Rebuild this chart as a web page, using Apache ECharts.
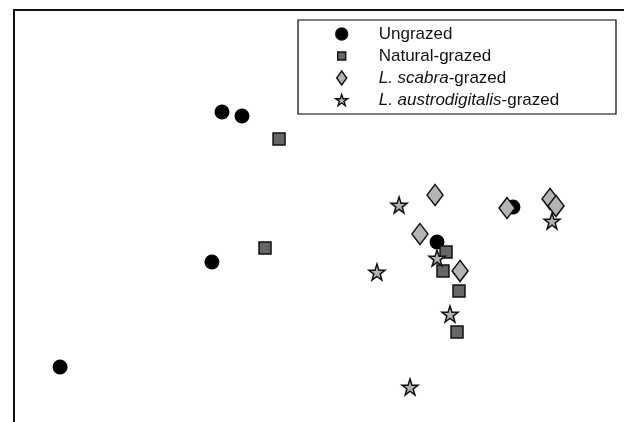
<!DOCTYPE html>
<html>
<head>
<meta charset="utf-8">
<script src="https://cdn.jsdelivr.net/npm/echarts@6/dist/echarts.min.js"></script>
<style>html,body{margin:0;padding:0;background:#fff}#c{width:624px;height:422px}</style>
</head>
<body>
<div id="c"></div>
<script>
var seriesNames = ['Ungrazed', 'Natural-grazed', 'L. scabra-grazed', 'L. austrodigitalis-grazed'];
var ungrazed = [[-0.636, 0.757], [-0.505, 0.728], [-0.702, -0.335], [-1.698, -1.100], [0.774, -0.189], [1.272, 0.066]];
var naturalGrazed = [[-0.262, 0.561], [-0.354, -0.233], [0.833, -0.262], [0.813, -0.400], [0.918, -0.546], [0.905, -0.845]];
var scabraGrazed = [[0.761, 0.153], [0.662, -0.131], [0.925, -0.400], [1.233, 0.058], [1.515, 0.124], [1.554, 0.073]];
var austroGrazed = [[0.525, 0.080], [0.380, -0.408], [0.774, -0.306], [0.859, -0.714], [0.597, -1.245], [1.528, -0.036]];

var STAR = 'path://M50,0 L61.8,35.1 L98.1,35.1 L68.8,56.7 L79.4,90.5 L50,69.5 L20.6,90.5 L31.2,56.7 L1.9,35.1 L38.2,35.1 Z';
var DIAMOND = 'path://M7,0 L14,10 L7,20 L0,10 Z';

var chart = echarts.init(document.getElementById('c'));
var rich = {
  sp: {width: 26, fontSize: 17, lineHeight: 22},
  n: {fontFamily: 'Liberation Sans', fontSize: 17, lineHeight: 22, color: '#111'},
  i: {fontFamily: 'Liberation Sans', fontSize: 17, lineHeight: 22, color: '#111', fontStyle: 'italic'}
};
chart.setOption({
  animation: false,
  backgroundColor: '#fff',
  grid: {left: 14, top: 10, right: 0, bottom: 0},
  xAxis: {
    type: 'value', position: 'top', min: -2, max: 2,
    axisLine: {show: true, onZero: false, lineStyle: {color: '#111', width: 2}},
    axisTick: {show: false}, axisLabel: {show: false}, splitLine: {show: false}
  },
  yAxis: {
    type: 'value', min: -1.5, max: 1.5,
    axisLine: {show: true, onZero: false, lineStyle: {color: '#111', width: 2}},
    axisTick: {show: false}, axisLabel: {show: false}, splitLine: {show: false}
  },
  graphic: [{
    type: 'rect', shape: {x: 298, y: 20, width: 318, height: 94},
    style: {fill: 'none', stroke: '#000', lineWidth: 1.2}, z: 100
  }],
  legend: {
    orient: 'vertical', left: 335, top: 23, padding: 0, itemGap: 0,
    itemWidth: 12, itemHeight: 14,
    itemStyle: {borderWidth: 1.4, borderColor: '#111'},
    data: [
      {name: seriesNames[0], icon: 'circle'},
      {name: seriesNames[1], icon: 'path://M0,0M12,14M2,3L10,3L10,11L2,11Z'},
      {name: seriesNames[2], icon: 'path://M6,0L11,7L6,14L1,7Z'},
      {name: seriesNames[3], icon: STAR}
    ],
    formatter: function (name) {
      if (name === seriesNames[2]) return '{sp|}{i|L. scabra}{n|-grazed}';
      if (name === seriesNames[3]) return '{sp|}{i|L. austrodigitalis}{n|-grazed}';
      return '{sp|}{n|' + name + '}';
    },
    textStyle: {rich: rich, fontSize: 17, lineHeight: 22}
  },
  series: [
    {name: seriesNames[0], type: 'scatter', data: ungrazed, symbol: 'circle', symbolSize: 15,
     itemStyle: {color: '#000', borderColor: '#000', borderWidth: 0, opacity: 1}},
    {name: seriesNames[1], type: 'scatter', data: naturalGrazed, symbol: 'rect', symbolSize: 12,
     itemStyle: {color: '#666', borderColor: '#111', borderWidth: 1.5, opacity: 1}},
    {name: seriesNames[2], type: 'scatter', data: scabraGrazed, symbol: DIAMOND, symbolSize: [16, 21],
     itemStyle: {color: '#b4b4b4', borderColor: '#111', borderWidth: 1.5, opacity: 1}},
    {name: seriesNames[3], type: 'scatter', data: austroGrazed, symbol: STAR, symbolSize: 16,
     itemStyle: {color: '#b4b4b4', borderColor: '#111', borderWidth: 1.5, opacity: 1}}
  ]
});
</script>
</body>
</html>
